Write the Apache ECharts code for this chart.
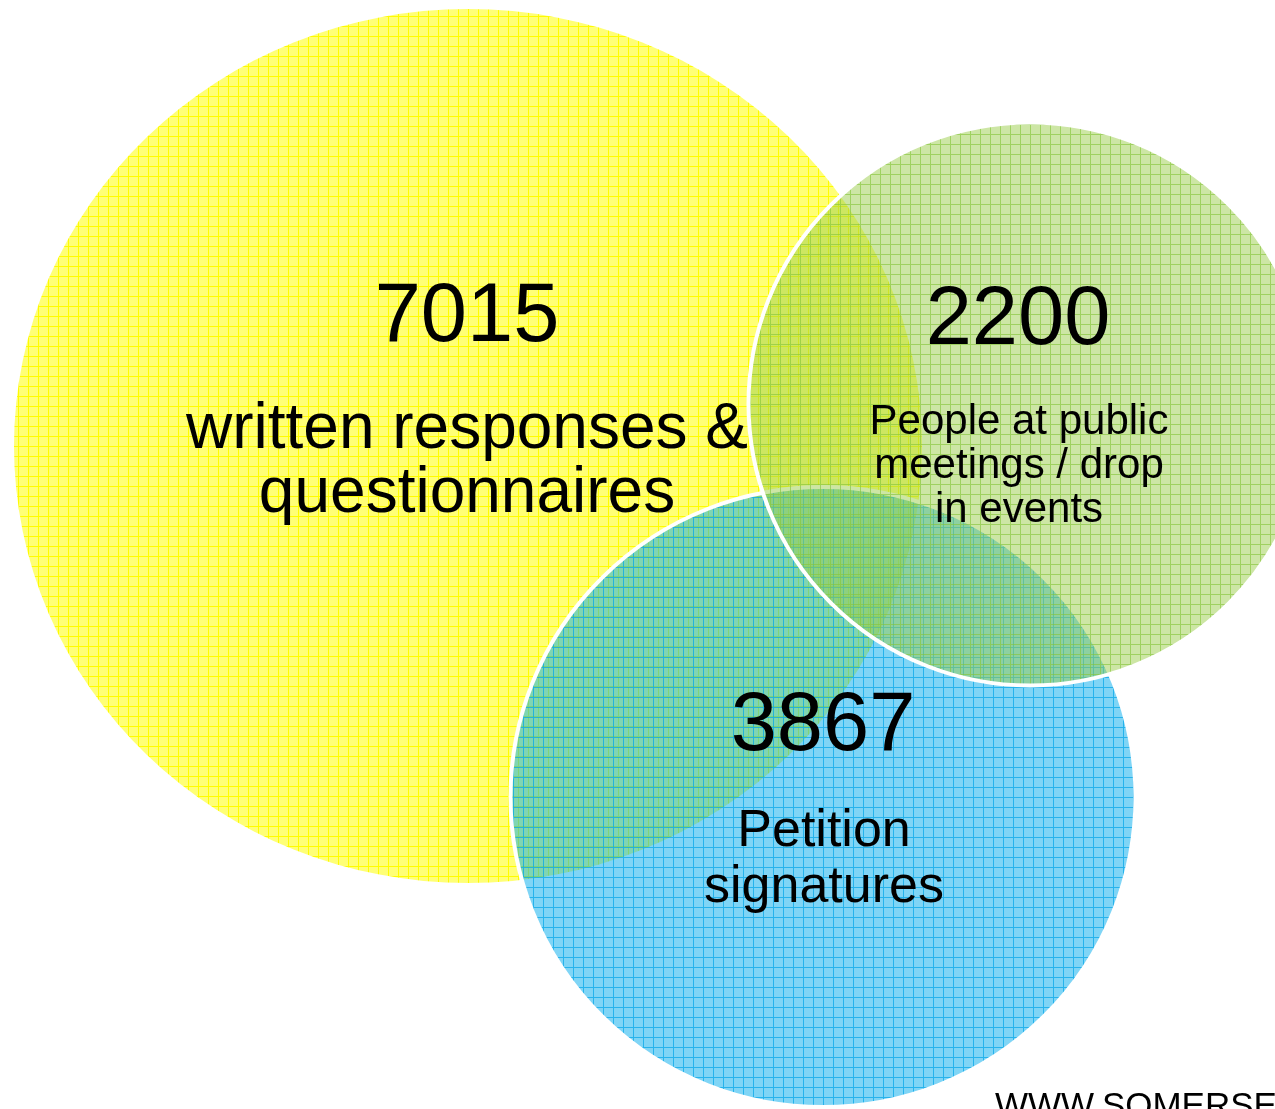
<!DOCTYPE html>
<html>
<head>
<meta charset="utf-8">
<script src="https://cdn.jsdelivr.net/npm/echarts@6/dist/echarts.min.js"></script>
<style>
html,body{margin:0;padding:0;background:#fff;}
#chart{width:1275px;height:1109px;}
</style>
</head>
<body>
<div id="chart"></div>
<script>
// ---- data ----
const categories = ['written responses &\nquestionnaires', 'People at public\nmeetings / drop\nin events', 'Petition\nsignatures'];
const values = [7015, 2200, 3867];
const footerText = 'WWW.SOMERSET.GOV.UK';

// ---- layout (pixel space of hidden axes) ----
const circleLayout = [
  { cx: 468, cy: 446, w: 908, h: 874, border: 0 },
  { cx: 1030, cy: 404, w: 563, h: 563, border: 4 },
  { cx: 823, cy: 797, w: 625, h: 620, border: 4 }
];
const numPos = [[467, 318], [1018, 321], [823, 727]];
const descPos = [[467, 462], [1019, 466], [824, 860]];
const descFont = [[64, 64], [42, 44], [52, 56]];
const drawOrder = [0, 2, 1]; // yellow, blue, green on top

// ---- textures ----
function makePattern(base, line, w, h) {
  const c = document.createElement('canvas');
  c.width = 10; c.height = 10;
  const g = c.getContext('2d');
  g.fillStyle = base; g.fillRect(0, 0, 10, 10);
  g.fillStyle = line;
  g.fillRect(0, 0, 10, 1);
  g.fillRect(0, 1, 1, 9);
  // symbol paths are drawn scaled by size/2, so counter-scale the pattern
  return { image: c, repeat: 'repeat', scaleX: 2 / w, scaleY: 2 / h };
}
const fillColors = [
  ['rgba(255,255,118,1)', 'rgba(255,252,0,1)'],
  ['rgba(155,205,75,0.5)', 'rgba(135,198,60,0.65)'],
  ['rgba(0,172,238,0.5)', 'rgba(0,165,232,0.7)']
];

const FONT = "'Liberation Sans', Arial, sans-serif";

const circleData = drawOrder.map(i => ({
  value: [circleLayout[i].cx, circleLayout[i].cy],
  symbolSize: [circleLayout[i].w, circleLayout[i].h],
  itemStyle: {
    color: makePattern(fillColors[i][0], fillColors[i][1], circleLayout[i].w, circleLayout[i].h),
    borderColor: '#ffffff',
    borderWidth: circleLayout[i].border,
    opacity: 1
  }
}));

const numData = values.map((v, i) => ({
  value: [numPos[i][0], numPos[i][1]],
  label: { formatter: String(v) }
}));
const descData = categories.map((t, i) => ({
  value: [descPos[i][0], descPos[i][1]],
  label: { formatter: t, fontSize: descFont[i][0], lineHeight: descFont[i][1] }
}));

const chart = echarts.init(document.getElementById('chart'), null, { renderer: 'canvas' });
chart.setOption({
  animation: false,
  backgroundColor: '#ffffff',
  grid: { left: 0, right: 0, top: 0, bottom: 0 },
  xAxis: { type: 'value', min: 0, max: 1275, show: false },
  yAxis: { type: 'value', min: 0, max: 1109, inverse: true, show: false },
  series: [
    {
      type: 'scatter',
      symbol: 'circle',
      data: circleData,
      clip: true,
      silent: true,
      itemStyle: { opacity: 1 },
      emphasis: { disabled: true },
      z: 1
    },
    {
      type: 'scatter',
      symbolSize: 0,
      data: numData,
      silent: true,
      itemStyle: { opacity: 1 },
      emphasis: { disabled: true },
      z: 3,
      label: {
        show: true, position: 'inside', color: '#000', fontSize: 83,
        fontFamily: FONT, opacity: 1
      }
    },
    {
      type: 'scatter',
      symbolSize: 0,
      data: descData,
      silent: true,
      itemStyle: { opacity: 1 },
      emphasis: { disabled: true },
      z: 3,
      label: {
        show: true, position: 'inside', color: '#000', align: 'center',
        fontFamily: FONT, opacity: 1
      }
    }
  ],
  graphic: [{
    type: 'text',
    left: 995,
    top: 1090,
    silent: true,
    style: { text: footerText, fontSize: 35, fontFamily: FONT, fill: '#000' }
  }]
});
</script>
</body>
</html>
